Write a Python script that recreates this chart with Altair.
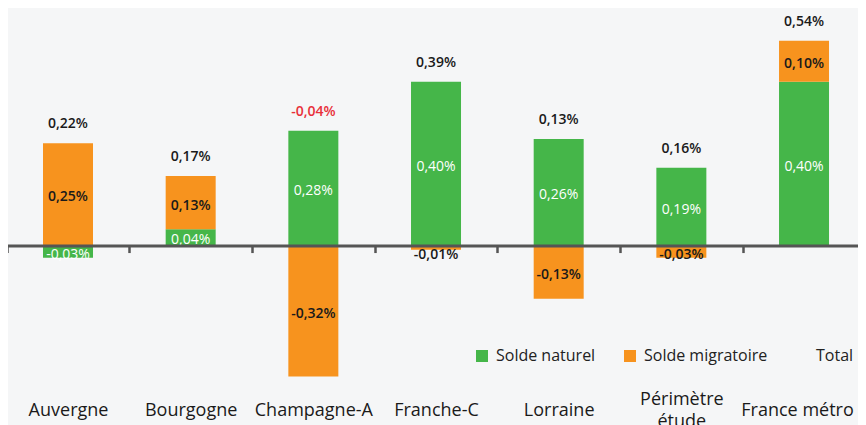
import altair as alt
import pandas as pd

categories = ["Auvergne", "Bourgogne", "Champagne-A", "Franche-C", "Lorraine", "Périmètre étude", "France métro"]
naturel = [-0.03, 0.04, 0.28, 0.40, 0.26, 0.19, 0.40]
migratoire = [0.25, 0.13, -0.32, -0.01, -0.13, -0.03, 0.10]
total = [0.22, 0.17, -0.04, 0.39, 0.13, 0.16, 0.54]
series = ["Solde naturel", "Solde migratoire", "Total"]
colors = ["#45b649", "#f7931e", "transparent"]


def fr(v):
    return f"{v:.2f}".replace(".", ",") + "%"


rows = []
tops = []
for i, c in enumerate(categories):
    pos, neg = 0.0, 0.0
    for s, v in ((series[0], naturel[i]), (series[1], migratoire[i])):
        if v >= 0:
            y0, y1 = pos, pos + v
            pos = y1
        else:
            y0, y1 = neg, neg + v
            neg = y1
        sign = 1 if v >= 0 else -1
        ly = y0 + sign * max(abs(v), 0.03) / 2
        rows.append(dict(cat=c, serie=s, v=v, y0=y0, y1=y1, ly=ly, lab=fr(v),
                         white=(s == series[0])))
    tops.append(dict(cat=c, top=pos, total=total[i], lab=fr(total[i])))

df = pd.DataFrame(rows)
dt = pd.DataFrame(tops)

W, H = 850, 385
ymin, ymax = -0.36, 0.58
zero_off = -H * (0 - ymin) / (ymax - ymin)
step = 122.67
x0 = -1.33

xscale = alt.Scale(paddingInner=0, paddingOuter=0, range=[x0, x0 + 7 * step])
xenc = alt.X("cat:N", sort=categories, title=None, scale=xscale,
             axis=alt.Axis(orient="bottom", offset=zero_off, labelAngle=0,
                           domainColor="#555555", domainWidth=3,
                           tickColor="#555555", tickWidth=2.5, tickSize=7,
                           tickBand="extent",
                           labelPadding={"condition": {"test": "datum.value == 'Périmètre étude'", "value": 147},
                                         "value": 158},
                           labelOffset={"condition": {"test": "datum.value == 'France métro'", "value": -7},
                                        "value": 0},
                           labelFont="Open Sans", labelFontSize=18,
                           labelColor="#1a1a1a", labelBaseline="middle",
                           labelLineHeight=22, zindex=2,
                           labelExpr="datum.label == 'Périmètre étude' ? ['Périmètre', 'étude'] : datum.label"))
yscale = alt.Scale(domain=[ymin, ymax], nice=False, zero=False)
xsimple = alt.X("cat:N", sort=categories, scale=xscale)

bars = alt.Chart(df).mark_bar(width=50).encode(
    x=xenc,
    y=alt.Y("y0:Q", scale=yscale, axis=None),
    y2="y1:Q",
    color=alt.Color("serie:N", scale=alt.Scale(domain=series, range=colors),
                    legend=alt.Legend(title=None, orient="none", direction="horizontal",
                                      legendX=466, legendY=340, symbolType="square",
                                      symbolSize=144, symbolStrokeWidth=0,
                                      labelFont="Open Sans", labelFontSize=16,
                                      labelColor="#222222", labelOffset=6,
                                      columnPadding=26)),
)

lab_white = alt.Chart(df).transform_filter("datum.white").mark_text(
    font="Open Sans", fontSize=14, fontWeight=500, color="white", baseline="middle", dy=3
).encode(x=xsimple, y=alt.Y("ly:Q", scale=yscale), text="lab:N")

lab_black = alt.Chart(df).transform_filter("!datum.white").mark_text(
    font="Open Sans", fontSize=14, fontWeight=600, color="#1a1a1a", baseline="middle", dy=3
).encode(x=xsimple, y=alt.Y("ly:Q", scale=yscale), text="lab:N")

lab_total = alt.Chart(dt).mark_text(
    font="Open Sans", fontSize=14, fontWeight=600, baseline="middle", dy=-19
).encode(
    x=xsimple, y=alt.Y("top:Q", scale=yscale), text="lab:N",
    color=alt.condition("datum.total < 0", alt.value("#e8303a"), alt.value("#1a1a1a")),
)

chart = alt.layer(bars, lab_white, lab_black, lab_total).properties(
    width=W, height=H,
    padding={"left": 0, "top": 0, "right": 0, "bottom": 32},
    autosize=alt.AutoSizeParams(type="none"),
    background="#f5f6f7",
).configure_view(stroke=None)

chart.save("out.html", embed_options={"renderer": "svg", "actions": False})
